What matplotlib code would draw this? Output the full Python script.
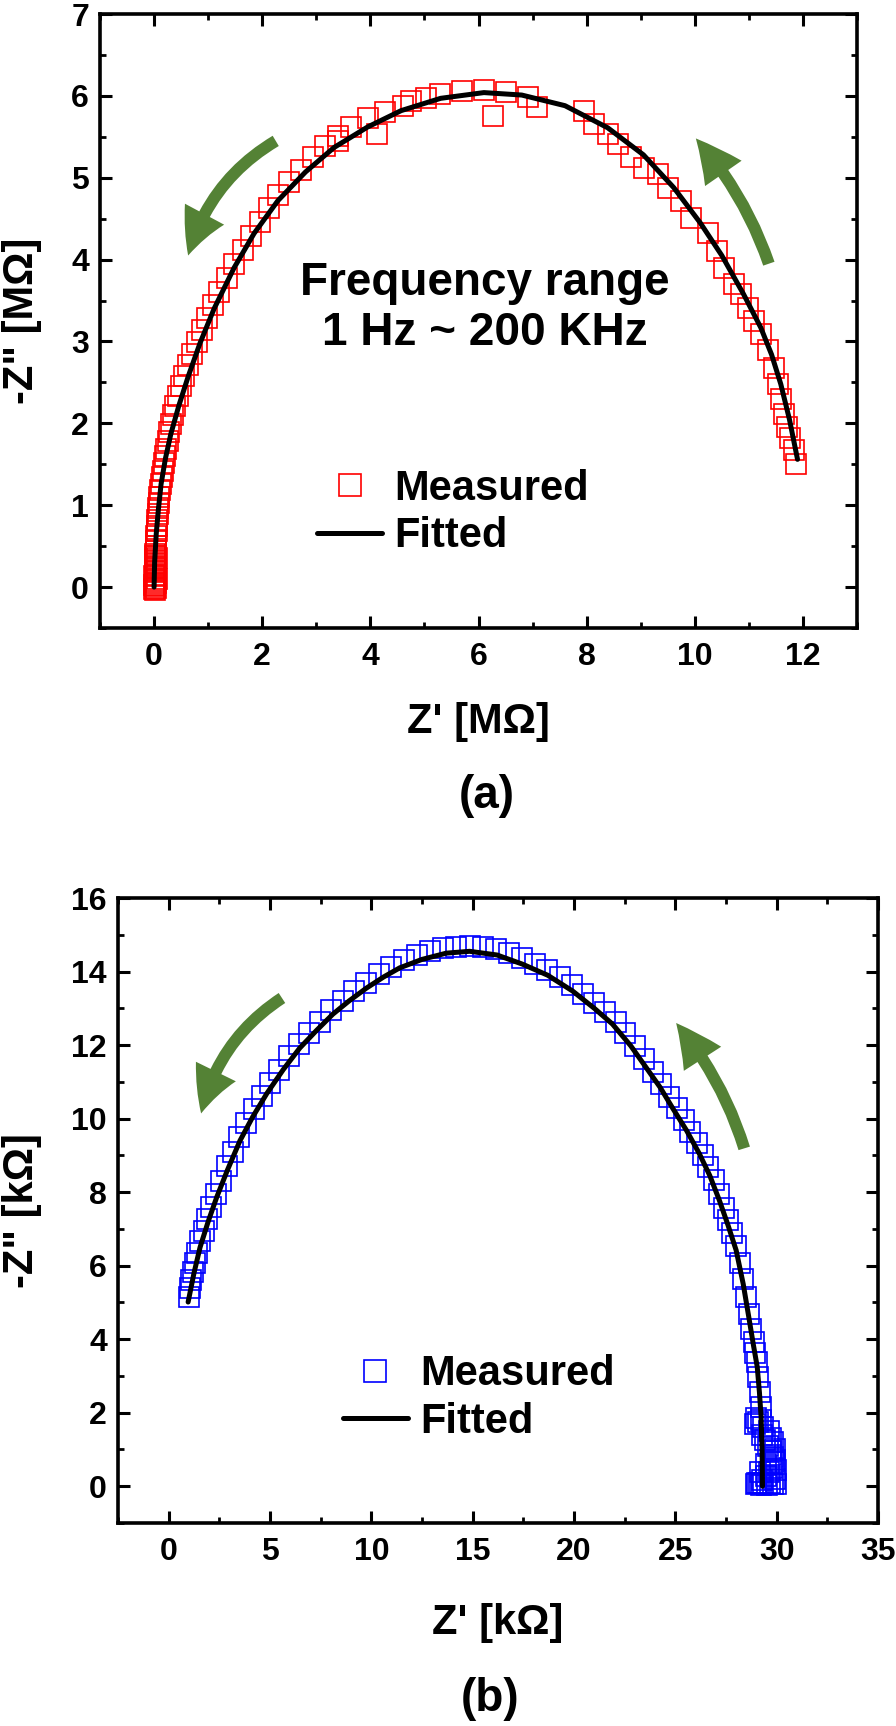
import matplotlib.pyplot as plt
from matplotlib.ticker import MultipleLocator

plt.rcParams['font.family'] = ['Liberation Sans', 'DejaVu Sans']
plt.rcParams['font.weight'] = 'bold'

green = '#548235'

# ---- (a) data, MOhm ----
meas_a_x = [0.00, 0.00, 0.01, 0.00, 0.01, 0.01, 0.01, 0.02, 0.02, 0.03, 0.03, 0.04, 0.04, 0.05,
            0.06, 0.06, 0.07, 0.08, 0.09, 0.10, 0.11, 0.12, 0.14, 0.16, 0.18, 0.20, 0.22, 0.25,
            0.28, 0.31, 0.35, 0.39, 0.44, 0.50, 0.56, 0.63, 0.71, 0.79, 0.88, 0.98, 1.09, 1.21,
            1.34, 1.48, 1.64, 1.80, 1.95, 2.12, 2.30, 2.50, 2.71, 2.93, 3.16, 3.40, 3.40, 3.65,
            3.96, 4.12, 4.28, 4.60, 4.75, 5.02, 5.29, 5.69, 6.10, 6.27, 6.50, 6.91, 7.08, 7.95,
            8.13, 8.39, 8.58, 8.82, 9.06, 9.32, 9.50, 9.74, 9.93, 10.24, 10.42, 10.54, 10.72,
            10.85, 10.98, 11.09, 11.22, 11.35, 11.46, 11.53, 11.59, 11.65, 11.71, 11.77, 11.83,
            11.87,
            0.02, 0.04, 0.01, 0.03, 0.05, 0.02, 0.04, 0.01, 0.03, 0.05, 0.02, 0.04]
meas_a_y = [-0.02, 0.03, 0.08, 0.13, 0.18, 0.23, 0.28, 0.33, 0.38, 0.44, 0.50, 0.56, 0.62, 0.68,
            0.75, 0.82, 0.89, 0.96, 1.03, 1.10, 1.18, 1.26, 1.34, 1.42, 1.51, 1.60, 1.69, 1.79,
            1.89, 1.99, 2.10, 2.21, 2.33, 2.45, 2.58, 2.71, 2.85, 2.99, 3.14, 3.29, 3.45, 3.61,
            3.78, 3.95, 4.12, 4.29, 4.46, 4.63, 4.79, 4.95, 5.10, 5.25, 5.39, 5.45, 5.51, 5.62,
            5.73, 5.54, 5.80, 5.88, 5.94, 5.98, 6.02, 6.06, 6.07, 5.76, 6.05, 5.99, 5.86, 5.82,
            5.66, 5.54, 5.41, 5.25, 5.12, 5.05, 4.88, 4.72, 4.51, 4.32, 4.11, 3.90, 3.70,
            3.58, 3.41, 3.25, 3.09, 2.89, 2.68, 2.48, 2.30, 2.12, 1.96, 1.82, 1.68,
            1.50,
            -0.04, -0.01, 0.01, 0.05, 0.10, 0.15, 0.20, 0.25, 0.30, 0.35, 0.40, 0.46]
fit_a_x = [0.00, 0.01, 0.04, 0.08, 0.13, 0.21, 0.31, 0.46, 0.63, 0.85, 1.11, 1.48, 1.85, 2.29,
           2.80, 3.33, 3.95, 4.57, 5.30, 6.10, 6.80, 7.60, 8.39, 9.05, 9.61, 10.10, 10.50, 10.90,
           11.22, 11.42, 11.59, 11.75, 11.90]
fit_a_y = [0.00, 0.30, 0.65, 0.95, 1.26, 1.57, 1.87, 2.22, 2.57, 2.98, 3.40, 3.90, 4.32, 4.72,
           5.07, 5.37, 5.62, 5.82, 5.97, 6.04, 6.01, 5.88, 5.61, 5.28, 4.88, 4.45, 4.05, 3.58,
           3.17, 2.84, 2.48, 2.05, 1.56]

# ---- (b) data, kOhm ----
meas_b_x = [1.00, 1.05, 1.12, 1.20, 1.30, 1.42, 1.56, 1.72, 1.90, 2.10, 2.33, 2.58, 2.86, 3.16,
            3.48, 3.83, 4.20, 4.60, 5.02, 5.46, 5.93, 6.42, 6.93, 7.46, 8.01, 8.58, 9.16, 9.76,
            10.37, 10.99, 11.62, 12.26, 12.90, 13.55, 14.20, 14.85, 15.50, 16.15, 16.80, 17.44,
            18.07, 18.69, 19.30, 19.89, 20.46, 21.01, 21.54, 22.05, 22.54, 23.01, 23.46, 23.89,
            24.30, 24.69, 25.06, 25.41, 25.74, 26.05, 26.35, 26.63, 26.90, 27.15, 27.39, 27.61,
            27.82, 28.01, 28.19, 28.35, 28.50, 28.63, 28.75, 28.86, 28.95, 29.03, 29.10, 29.16,
            29.21, 29.25, 29.28, 29.10, 28.95, 29.40, 29.55, 29.70, 29.80, 29.85, 29.75, 29.60,
            29.45, 29.30, 29.15, 29.00, 29.25, 29.50, 29.80, 29.95,
            29.05, 29.35, 29.65, 29.90, 29.95, 29.90, 29.70, 29.60, 29.35, 29.00, 29.90, 29.80,
            29.45, 29.20, 29.70]
meas_b_y = [5.15, 5.40, 5.62, 5.82, 6.07, 6.34, 6.67, 6.95, 7.27, 7.60, 7.95, 8.31, 8.70, 9.09,
            9.50, 9.88, 10.25, 10.62, 10.97, 11.33, 11.69, 12.03, 12.33, 12.64, 12.94, 13.21,
            13.46, 13.70, 13.92, 14.12, 14.30, 14.44, 14.55, 14.63, 14.68, 14.70, 14.67, 14.61,
            14.50, 14.36, 14.20, 14.05, 13.85, 13.63, 13.39, 13.15, 12.90, 12.62, 12.32, 11.97,
            11.62, 11.28, 10.95, 10.60, 10.28, 9.95, 9.64, 9.33, 9.00, 8.68, 8.32, 7.96, 7.58,
            7.23, 6.88, 6.54, 6.07, 5.65, 5.14, 4.68, 4.28, 3.92, 3.63, 3.38, 2.97, 2.57, 2.16,
            1.80, 1.40, 1.75, 1.70, 1.25, 1.10, 0.95, 0.80, 0.65, 0.50, 0.38, 0.27, 0.18, 0.10,
            0.05, 0.03, 0.04, 0.05, 0.06,
            0.08, 0.08, 0.10, 0.20, 0.45, 0.70, 1.30, 1.50, 1.60, 1.85, 1.00, 1.20,
            0.60, 0.40, 0.85]
fit_b_x = [0.96, 1.25, 1.55, 1.95, 2.37, 2.90, 3.52, 4.15, 4.84, 5.65, 6.47, 7.30, 8.10, 8.90,
           9.76, 10.60, 11.40, 12.50, 13.70, 14.85, 16.20, 17.46, 18.70, 19.93, 21.00, 21.90,
           22.80, 23.57, 24.25, 24.85, 25.55, 26.18, 26.70, 27.17, 27.60, 28.00, 28.35, 28.64,
           28.85, 29.04, 29.15, 29.23, 29.28, 29.30]
fit_b_y = [5.01, 5.80, 6.50, 7.20, 7.86, 8.60, 9.40, 10.05, 10.68, 11.33, 11.92, 12.40, 12.84,
           13.20, 13.55, 13.85, 14.10, 14.33, 14.50, 14.55, 14.45, 14.20, 13.90, 13.47, 13.00,
           12.57, 11.98, 11.38, 10.85, 10.30, 9.68, 9.05, 8.45, 7.78, 7.10, 6.42, 5.50, 4.55,
           3.85, 3.25, 2.55, 1.90, 1.00, 0.00]

fig = plt.figure(figsize=(8.96, 17.26), dpi=100)
ax1 = fig.add_axes([100/896, 1 - 628/1726, 757/896, 614/1726])
ax2 = fig.add_axes([118/896, 1 - 1523/1726, 760/896, 625/1726])


def style(ax, xmaj, ymaj):
    ax.xaxis.set_major_locator(MultipleLocator(xmaj))
    ax.xaxis.set_minor_locator(MultipleLocator(xmaj / 2))
    ax.yaxis.set_major_locator(MultipleLocator(ymaj))
    ax.yaxis.set_minor_locator(MultipleLocator(ymaj / 2))
    ax.tick_params(which='both', direction='in', top=True, right=True, labelsize=23)
    ax.tick_params(which='major', length=8.6, width=2.2)
    ax.tick_params(which='minor', length=4.3, width=2.0)
    ax.tick_params(axis='x', pad=10)
    ax.tick_params(axis='y', pad=8)
    for s in ax.spines.values():
        s.set_linewidth(2.6)


def arrow(ax, tail, tip, rad):
    ax.annotate('', xy=tip, xytext=tail,
                arrowprops=dict(arrowstyle='simple,head_length=3.2,head_width=3.2,tail_width=0.86',
                                connectionstyle=f'arc3,rad={rad}', mutation_scale=10,
                                color=green, lw=0, shrinkA=0, shrinkB=0))


# ---- panel (a) ----
ax1.plot(meas_a_x, meas_a_y, 's', mfc='none', mec='red', ms=14.4, mew=1.2, label='Measured')
ax1.plot(fit_a_x, fit_a_y, '-', color='black', lw=3.6, solid_capstyle='round', label='Fitted')
ax1.set_xlim(-1, 13)
ax1.set_ylim(-0.5, 7)
style(ax1, 2, 1)
ax1.set_xlabel("Z' [MΩ]", fontsize=30, fontweight='bold')
ax1.set_ylabel('-Z" [MΩ]', fontsize=30, fontweight='bold')
ax1.xaxis.label.set_va('center')
ax1.yaxis.label.set_va('center')
ax1.xaxis.set_label_coords(0.5, -0.153)
ax1.yaxis.set_label_coords(-0.103, 0.5)
ax1.text(6.12, 3.41, 'Frequency range\n1 Hz ~ 200 KHz', ha='center', va='center',
         fontsize=33, fontweight='bold', linespacing=1.2)
arrow(ax1, (2.25, 5.45), (0.63, 4.05), 0.2)
arrow(ax1, (11.37, 3.95), (10.02, 5.48), 0.1)
ax1.legend(loc='center left', bbox_to_anchor=(0.287, 0.188), frameon=False,
           fontsize=30, handlelength=1.56, handletextpad=0.29, labelspacing=0.17,
           borderpad=0, borderaxespad=0, markerscale=1.1)

# ---- panel (b) ----
ax2.plot(meas_b_x, meas_b_y, 's', mfc='none', mec='blue', ms=14.4, mew=1.2, label='Measured')
ax2.plot(fit_b_x, fit_b_y, '-', color='black', lw=3.6, solid_capstyle='round', label='Fitted')
ax2.set_xlim(-2.5, 35)
ax2.set_ylim(-1, 16)
style(ax2, 5, 2)
ax2.set_xlabel("Z' [kΩ]", fontsize=30, fontweight='bold')
ax2.set_ylabel('-Z" [kΩ]', fontsize=30, fontweight='bold')
ax2.xaxis.label.set_va('center')
ax2.yaxis.label.set_va('center')
ax2.xaxis.set_label_coords(0.5, -0.16)
ax2.yaxis.set_label_coords(-0.126, 0.5)
arrow(ax2, (5.59, 13.28), (1.6, 10.14), 0.2)
arrow(ax2, (28.4, 9.19), (25.04, 12.6), 0.1)
ax2.legend(loc='center left', bbox_to_anchor=(0.296, 0.2), frameon=False,
           fontsize=30, handlelength=1.56, handletextpad=0.29, labelspacing=0.17,
           borderpad=0, borderaxespad=0, markerscale=1.1)

fig.text(487/896, 1 - 796/1726, '(a)', ha='center', va='center', fontsize=33, fontweight='bold')
fig.text(490/896, 1 - 1699/1726, '(b)', ha='center', va='center', fontsize=33, fontweight='bold')

fig.savefig('out.png', dpi=100)
